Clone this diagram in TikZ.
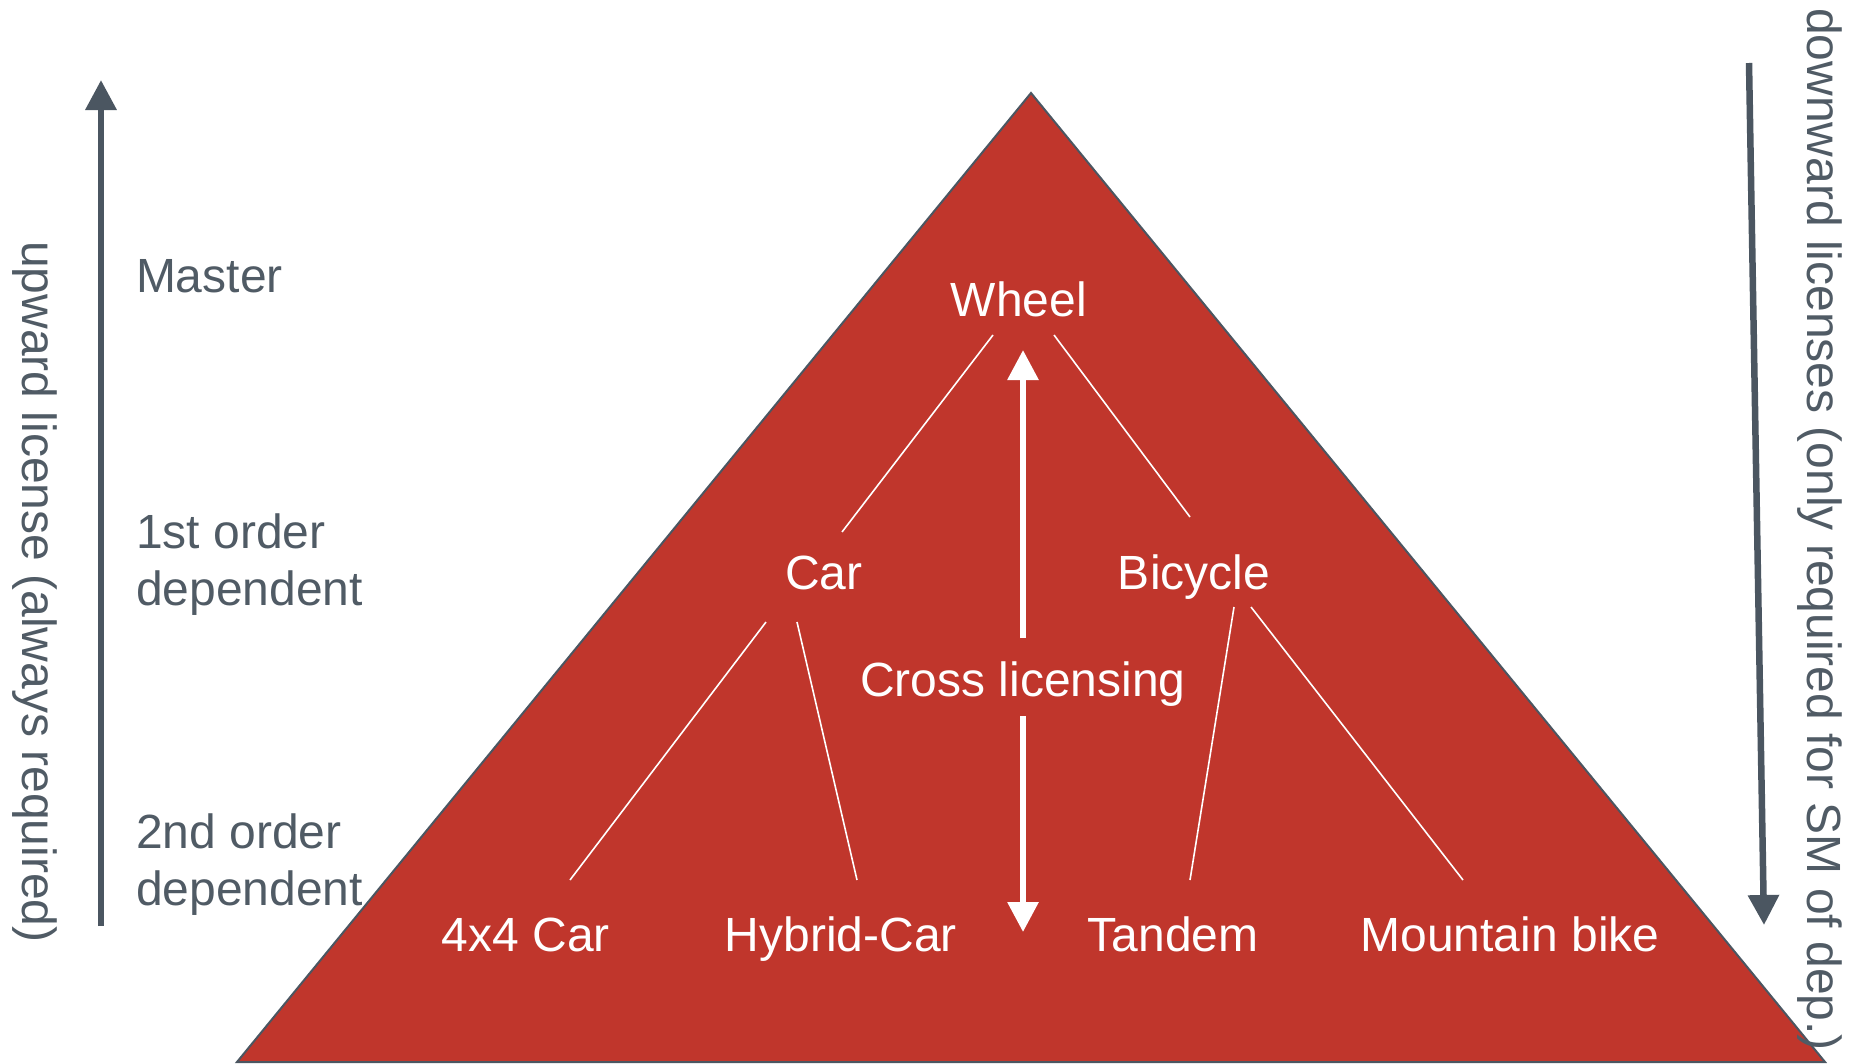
\documentclass[tikz,border=0pt]{standalone}
\usepackage{fontspec}
\setmainfont{Liberation Sans}
\usetikzlibrary{arrows.meta}
\definecolor{tri}{HTML}{C0362C}
\definecolor{slate}{HTML}{4B5661}
\definecolor{txtgrey}{HTML}{505B65}
\begin{document}
\begin{tikzpicture}[x=1pt,y=-1pt,
  lbl/.style={font=\fontsize{48}{57}\selectfont, inner sep=0pt, outer sep=0pt},
  greylbl/.style={lbl, text=txtgrey, align=left},
  whitelbl/.style={lbl, text=white},
  bigarrow/.style={draw=slate, line width=6.5pt, -{Triangle[length=30pt,width=30pt]}},
  whitearrow/.style={draw=white, line width=6pt, -{Triangle[length=30pt,width=30pt]}},
  link/.style={draw=white, line width=1.6pt}]
\useasboundingbox (0,0) rectangle (1854,1063);
% pyramid
\filldraw[fill=tri, draw=slate, line width=2pt] (1031,93) -- (237,1062) -- (1825,1062) -- cycle;
% left arrow and label
\coordinate (upS) at (101,926);
\coordinate (upE) at (101,80);
\draw[bigarrow] (upS) -- (upE);
\node[lbl, text=txtgrey, rotate=-90, anchor=base west] (uplbl) at (23,241) {upward license (always required)};
% right arrow and label
\coordinate (dnS) at (1749,63);
\coordinate (dnE) at (1764,925);
\draw[bigarrow] (dnS) -- (dnE);
\node[lbl, text=txtgrey, rotate=-90, anchor=base west] (dnlbl) at (1807,8) {downward licenses (only required for SM of dep.)};
% level labels
\node[greylbl, anchor=base west] (master) at (136,292) {Master};
\node[greylbl, anchor=base west] (first) at (136,605) {1st order\\dependent};
\node[greylbl, anchor=base west] (second) at (136,905) {2nd order\\dependent};
% items
\node[whitelbl, anchor=base] (wheel) at (1019,316) {Wheel};
\node[whitelbl, anchor=base] (car) at (824,589) {Car};
\node[whitelbl, anchor=base] (bicycle) at (1194,589) {Bicycle};
\node[whitelbl, anchor=base] (cross) at (1023,696) {Cross licensing};
\node[whitelbl, anchor=base] (fourx) at (526,951) {4x4 Car};
\node[whitelbl, anchor=base] (hybrid) at (841,951) {Hybrid-Car};
\node[whitelbl, anchor=base] (tandem) at (1173,951) {Tandem};
\node[whitelbl, anchor=base] (mtb) at (1510,951) {Mountain bike};
% link ends
\coordinate (wcA) at (993,335);  \coordinate (wcB) at (842,532);
\coordinate (wbA) at (1054,335); \coordinate (wbB) at (1190,517);
\coordinate (c4A) at (766,622);  \coordinate (c4B) at (570,880);
\coordinate (chA) at (797,622);  \coordinate (chB) at (857,880);
\coordinate (btA) at (1234,607); \coordinate (btB) at (1190,880);
\coordinate (bmA) at (1251,607); \coordinate (bmB) at (1463,880);
\draw[link] (wcA) -- (wcB);
\draw[link] (wbA) -- (wbB);
\draw[link] (c4A) -- (c4B);
\draw[link] (chA) -- (chB);
\draw[link] (btA) -- (btB);
\draw[link] (bmA) -- (bmB);
% cross licensing arrows
\coordinate (xuS) at (1023,638); \coordinate (xuE) at (1023,350);
\coordinate (xdS) at (1023,716); \coordinate (xdE) at (1023,932);
\draw[whitearrow] (xuS) -- (xuE);
\draw[whitearrow] (xdS) -- (xdE);
\end{tikzpicture}
\end{document}
